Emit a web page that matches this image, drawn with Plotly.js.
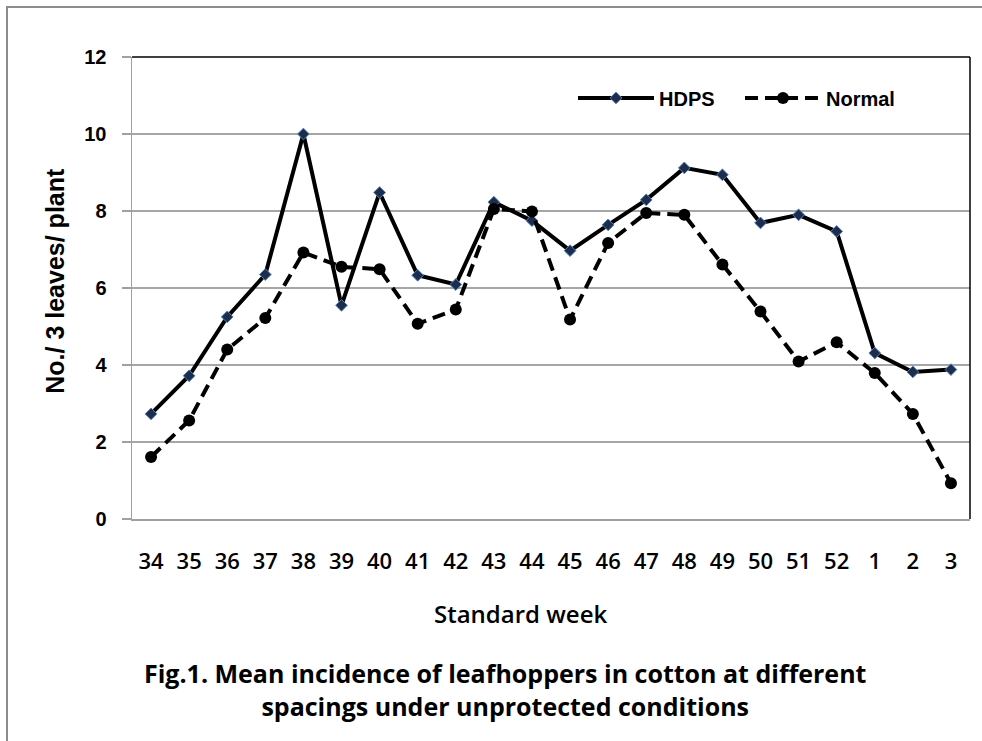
<!DOCTYPE html>
<html>
<head>
<meta charset="utf-8">
<script src="https://cdn.plot.ly/plotly-3.0.1.min.js"></script>
<style>
  html, body { margin: 0; padding: 0; background: #fff; }
  #wrap { position: relative; width: 982px; height: 741px; overflow: hidden; }
  #chart { width: 982px; height: 741px; }
  #frame { position: absolute; left: 6px; top: 6px; right: -4px; bottom: -4px;
           border-left: 2px solid #8c8c8c; border-top: 2px solid #8c8c8c; pointer-events: none; }
</style>
</head>
<body>
<div id="wrap">
  <div id="chart"></div>
  <div id="frame"></div>
</div>
<script>
const weeks = ['34','35','36','37','38','39','40','41','42','43','44','45','46','47','48','49','50','51','52','1','2','3'];
const hdps = [2.73, 3.72, 5.25, 6.35, 10.0, 5.55, 8.48, 6.33, 6.09, 8.23, 7.75, 6.97, 7.64, 8.29, 9.12, 8.94, 7.69, 7.90, 7.47, 4.31, 3.82, 3.88];
const normal = [1.61, 2.56, 4.40, 5.22, 6.92, 6.55, 6.49, 5.07, 5.44, 8.05, 7.99, 5.18, 7.17, 7.95, 7.90, 6.61, 5.39, 4.09, 4.59, 3.79, 2.73, 0.93];
const yTicks = [0, 2, 4, 6, 8, 10, 12];

const L = 132, R = 970, T = 57, B = 519.5;
const px = x => (x - L) / (R - L);
const py = y => (B - y) / (B - T);

const traces = [
  {
    x: weeks, y: hdps, name: 'HDPS', type: 'scatter', mode: 'lines+markers',
    line: { color: '#000000', width: 4 },
    marker: { symbol: 'diamond', size: 9, color: '#1f2d4d', line: { color: '#4f81bd', width: 1 } }
  },
  {
    x: weeks, y: normal, name: 'Normal', type: 'scatter', mode: 'lines+markers',
    line: { color: '#000000', width: 4, dash: '13px,7px' },
    marker: { symbol: 'circle', size: 12, color: '#000000' }
  }
];

const layout = {
  width: 982, height: 741,
  margin: { l: L, r: 982 - R, t: T, b: 741 - B, autoexpand: false },
  paper_bgcolor: '#ffffff', plot_bgcolor: '#ffffff',
  showlegend: true,
  legend: {
    orientation: 'h', x: px(573), y: py(98), xanchor: 'left', yanchor: 'middle',
    font: { family: 'Liberation Sans, Arial, sans-serif', size: 20, color: '#000', weight: 'bold' },
    itemwidth: 76, entrywidth: 76, entrywidthmode: 'pixels', bgcolor: 'rgba(0,0,0,0)'
  },
  xaxis: {
    type: 'category', range: [-0.5, 21.5], tickvals: weeks, ticktext: weeks,
    showgrid: false, zeroline: false, showline: true, linecolor: '#a0a0a0', linewidth: 1.5,
    ticks: '', ticklabelstandoff: 22,
    tickfont: { family: 'Open Sans, sans-serif', size: 22, color: '#000', weight: 600 },
    fixedrange: true
  },
  yaxis: {
    range: [0, 12], tickvals: yTicks, showgrid: true, gridcolor: '#a6a6a6', gridwidth: 1.5,
    zeroline: false, showline: true, linecolor: '#a0a0a0', linewidth: 1.5,
    ticks: 'outside', ticklen: 9, tickcolor: '#a0a0a0', tickwidth: 1.5, ticklabelstandoff: 11,
    tickfont: { family: 'Liberation Sans, Arial, sans-serif', size: 20, color: '#000', weight: 'bold' },
    fixedrange: true
  },
  shapes: [
    { type: 'line', xref: 'paper', yref: 'paper', x0: 0, x1: 1, y0: 1, y1: 1, line: { color: '#000', width: 1.5 } },
    { type: 'line', xref: 'paper', yref: 'paper', x0: 1, x1: 1, y0: 0, y1: 1, line: { color: '#000', width: 1.5 } }
  ],
  annotations: [
    { text: 'No./ 3 leaves/ plant', xref: 'paper', yref: 'paper', x: px(55), y: py(281), textangle: -90,
      showarrow: false, xanchor: 'center', yanchor: 'middle',
      font: { family: 'Liberation Sans, Arial, sans-serif', size: 25, color: '#000', weight: 'bold' } },
    { text: 'Standard week', xref: 'paper', yref: 'paper', x: px(520), y: py(614),
      showarrow: false, xanchor: 'center', yanchor: 'middle',
      font: { family: 'Open Sans, sans-serif', size: 24, color: '#000', weight: 600 } },
    { text: 'Fig.1. Mean incidence of leafhoppers in cotton at different<br>spacings under unprotected conditions',
      xref: 'paper', yref: 'paper', x: px(505), y: py(690),
      showarrow: false, xanchor: 'center', yanchor: 'middle', align: 'center',
      font: { family: 'Open Sans, sans-serif', size: 25, color: '#000', weight: 'bold' } }
  ]
};

Plotly.newPlot('chart', traces, layout, { displayModeBar: false, staticPlot: true });
</script>
</body>
</html>
